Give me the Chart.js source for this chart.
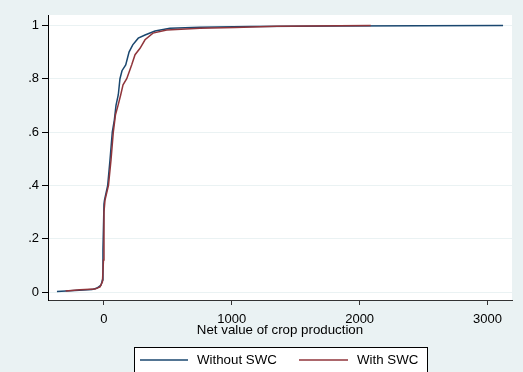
<!DOCTYPE html>
<html>
<head>
<meta charset="utf-8">
<script src="https://cdn.jsdelivr.net/npm/chart.js@4"></script>
<style>
  html, body { margin: 0; padding: 0; background: #eaf2f3; }
  #graph { display: block; }
</style>
</head>
<body>
<canvas id="graph" width="523" height="372"></canvas>
<script>
// cumulative distribution of net crop value, without soil & water conservation
const withoutX = [-368, -227, -94, -55, -23, -12, -8, 0, 4, 29, 47, 65, 81, 94, 112, 125, 141, 170, 196, 225, 268, 321, 399, 516, 751, 1142, 1847, 3122];
const withoutY = [0.002, 0.006, 0.009, 0.015, 0.026, 0.045, 0.158, 0.33, 0.345, 0.40, 0.495, 0.60, 0.645, 0.70, 0.74, 0.80, 0.83, 0.852, 0.90, 0.927, 0.952, 0.964, 0.979, 0.989, 0.993, 0.996, 0.998, 1.0];

// same, with SWC
const withX = [-300, -188, -70, -31, -12, -4, 0, 8, 35, 55, 73, 90, 110, 131, 149, 178, 217, 243, 282, 321, 383, 491, 751, 1025, 1354, 2087];
const withY = [0.004, 0.008, 0.011, 0.019, 0.038, 0.12, 0.30, 0.345, 0.40, 0.495, 0.60, 0.665, 0.70, 0.74, 0.777, 0.80, 0.852, 0.89, 0.914, 0.946, 0.971, 0.983, 0.989, 0.992, 0.997, 1.0];

const seriesNames = ["Without SWC", "With SWC"];
const xTicks = [0, 1000, 2000, 3000];
const yTicks = [0, 0.2, 0.4, 0.6, 0.8, 1];
const yTickLabels = ["0", ".2", ".4", ".6", ".8", "1"];

const BG = "#eaf2f3";
const BLUE = "#1a476f";
const RED = "#90353b";

function toPoints(xs, ys) {
  return xs.map((x, i) => ({ x: x, y: ys[i] }));
}

// grey page, white plot region
const backgroundPlugin = {
  id: "background",
  beforeDraw(chart) {
    const ctx = chart.ctx;
    const a = chart.chartArea;
    ctx.save();
    ctx.fillStyle = BG;
    ctx.fillRect(0, 0, chart.width, chart.height);
    ctx.fillStyle = "#ffffff";
    ctx.fillRect(a.left, a.top, a.right - a.left, a.bottom - a.top);
    ctx.restore();
  },
};

// boxed legend under the axis title
const boxLegendPlugin = {
  id: "boxLegend",
  afterDraw(chart) {
    const ctx = chart.ctx;
    const box = { left: 134, top: 347, width: 293, height: 30 };
    const midY = 360;
    const items = [
      { lineFrom: 140, lineTo: 188, textX: 197 },
      { lineFrom: 299, lineTo: 348, textX: 357 },
    ];
    ctx.save();
    ctx.fillStyle = "#ffffff";
    ctx.fillRect(box.left, box.top, box.width, box.height);
    ctx.strokeStyle = "#000000";
    ctx.lineWidth = 1;
    ctx.strokeRect(box.left + 0.5, box.top + 0.5, box.width, box.height);
    ctx.font = "13.3px 'Liberation Sans', Arial, sans-serif";
    ctx.textBaseline = "middle";
    ctx.textAlign = "left";
    chart.data.datasets.forEach((ds, i) => {
      const it = items[i];
      ctx.strokeStyle = ds.borderColor;
      ctx.lineWidth = 1.5;
      ctx.beginPath();
      ctx.moveTo(it.lineFrom, midY);
      ctx.lineTo(it.lineTo, midY);
      ctx.stroke();
      ctx.fillStyle = "#000000";
      ctx.fillText(ds.label, it.textX, midY);
    });
    ctx.restore();
  },
};

new Chart(document.getElementById("graph").getContext("2d"), {
  type: "line",
  data: {
    datasets: [
      {
        label: seriesNames[0],
        data: toPoints(withoutX, withoutY),
        borderColor: BLUE,
        borderWidth: 1.5,
        pointRadius: 0,
        fill: false,
        tension: 0,
        order: 1,
      },
      {
        label: seriesNames[1],
        data: toPoints(withX, withY),
        borderColor: RED,
        borderWidth: 1.5,
        pointRadius: 0,
        fill: false,
        tension: 0,
        order: 0,
      },
    ],
  },
  options: {
    responsive: false,
    maintainAspectRatio: false,
    animation: false,
    layout: { padding: { top: 15, right: 11, bottom: 32, left: 0 } },
    plugins: {
      legend: { display: false },
      tooltip: { enabled: false },
    },
    scales: {
      x: {
        type: "linear",
        min: -438,
        max: 3192,
        afterBuildTicks(scale) {
          scale.ticks = xTicks.map((v) => ({ value: v }));
        },
        afterFit(scale) {
          scale.height = 40;
        },
        ticks: {
          color: "#000000",
          padding: 7,
          maxRotation: 0,
          font: { family: "'Liberation Sans', Arial, sans-serif", size: 13 },
          callback: (v) => String(v),
        },
        grid: {
          drawOnChartArea: false,
          drawTicks: true,
          tickLength: 5,
          tickColor: "#333333",
        },
        border: { display: true, color: "#333333", width: 1 },
        title: {
          display: true,
          text: "Net value of crop production",
          color: "#000000",
          padding: { top: 0, bottom: 2 },
          font: { family: "'Liberation Sans', Arial, sans-serif", size: 13.3 },
        },
      },
      y: {
        type: "linear",
        min: -0.03,
        max: 1.039,
        afterBuildTicks(scale) {
          scale.ticks = yTicks.map((v) => ({ value: v }));
        },
        afterFit(scale) {
          scale.width = 48;
        },
        ticks: {
          color: "#000000",
          padding: 3,
          font: { family: "'Liberation Sans', Arial, sans-serif", size: 13 },
          callback: (v) => yTickLabels[yTicks.indexOf(v)],
        },
        grid: {
          color: BG,
          lineWidth: 1,
          drawTicks: true,
          tickLength: 6,
          tickColor: "#000000",
        },
        border: { display: true, color: "#000000", width: 1 },
      },
    },
  },
  plugins: [backgroundPlugin, boxLegendPlugin],
});
</script>
</body>
</html>
